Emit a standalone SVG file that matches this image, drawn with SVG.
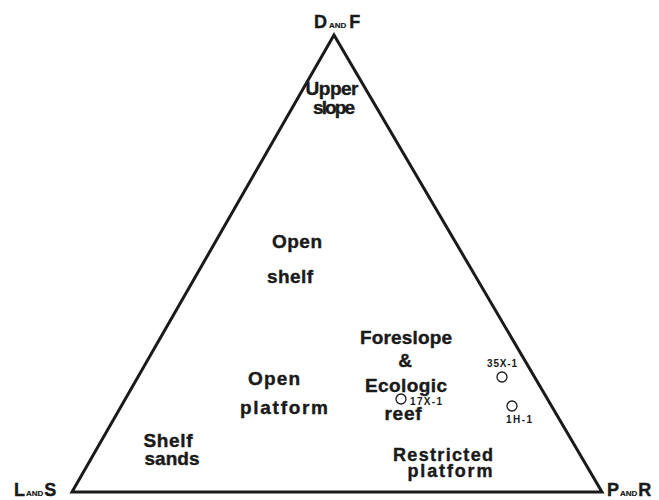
<svg xmlns="http://www.w3.org/2000/svg" width="659" height="500" viewBox="0 0 659 500">
<style>
.lb{font-family:"Liberation Sans",Arial,sans-serif;font-weight:bold;font-size:19px;fill:#1a1a1a;stroke:#1a1a1a;stroke-width:0.4;text-anchor:middle}
.ax{font-family:"Liberation Sans",Arial,sans-serif;font-weight:bold;font-size:18px;fill:#1a1a1a;stroke:#1a1a1a;stroke-width:0.4}
.sm{font-size:8px;stroke-width:0.2}
.pt{font-family:"Liberation Sans",Arial,sans-serif;font-weight:bold;font-size:10px;fill:#1a1a1a}
.c{fill:none;stroke:#1a1a1a;stroke-width:1.3}
</style>
<rect width="659" height="500" fill="#fff"/>
<g id="connectors">
<polygon points="72,492 602,492 334,35" fill="none" stroke="#1a1a1a" stroke-width="3" stroke-linejoin="miter"/>
</g>
<g id="vertex-DF"><text class="ax" x="314" y="28">D<tspan class="sm" dx="2">AND</tspan><tspan dx="3">F</tspan></text></g>
<g id="vertex-LS"><text class="ax" x="14" y="496">L<tspan class="sm" dx="1">AND</tspan><tspan dx="1">S</tspan></text></g>
<g id="vertex-PR"><text class="ax" x="607" y="496">P<tspan class="sm" dx="1">AND</tspan><tspan dx="1">R</tspan></text></g>
<g id="upper-slope">
<text class="lb" x="332" y="95" textLength="53" lengthAdjust="spacing">Upper</text>
<text class="lb" x="334" y="114" textLength="42" lengthAdjust="spacing">slope</text>
</g>
<g id="open-shelf">
<text class="lb" x="297" y="248" textLength="50" lengthAdjust="spacing">Open</text>
<text class="lb" x="290" y="283" textLength="46" lengthAdjust="spacing">shelf</text>
</g>
<g id="open-platform">
<text class="lb" x="274" y="385" textLength="52" lengthAdjust="spacing">Open</text>
<text class="lb" x="284" y="414" textLength="88" lengthAdjust="spacing">platform</text>
</g>
<g id="shelf-sands">
<text class="lb" x="168" y="447" textLength="49" lengthAdjust="spacing">Shelf</text>
<text class="lb" x="172" y="465" textLength="55" lengthAdjust="spacing">sands</text>
</g>
<g id="foreslope-reef">
<text class="lb" x="406" y="344" textLength="92" lengthAdjust="spacing">Foreslope</text>
<text class="lb" x="405" y="367">&amp;</text>
<text class="lb" x="406" y="392" textLength="82" lengthAdjust="spacing">Ecologic</text>
<text class="lb" x="403" y="420" textLength="37" lengthAdjust="spacing">reef</text>
</g>
<g id="restricted-platform">
<text class="lb" x="443" y="461" style="font-size:18px" textLength="100" lengthAdjust="spacing">Restricted</text>
<text class="lb" x="450" y="477" style="font-size:18px" textLength="85" lengthAdjust="spacing">platform</text>
</g>
<g id="sample-17X-1">
<circle class="c" cx="401" cy="399" r="5"/>
<text class="pt" x="410" y="405" textLength="32" lengthAdjust="spacing">17X-1</text>
</g>
<g id="sample-35X-1">
<circle class="c" cx="502" cy="377" r="5"/>
<text class="pt" x="487" y="367" textLength="30" lengthAdjust="spacing">35X-1</text>
</g>
<g id="sample-1H-1">
<circle class="c" cx="512" cy="406" r="5"/>
<text class="pt" x="506" y="423" textLength="26" lengthAdjust="spacing">1H-1</text>
</g>
</svg>
